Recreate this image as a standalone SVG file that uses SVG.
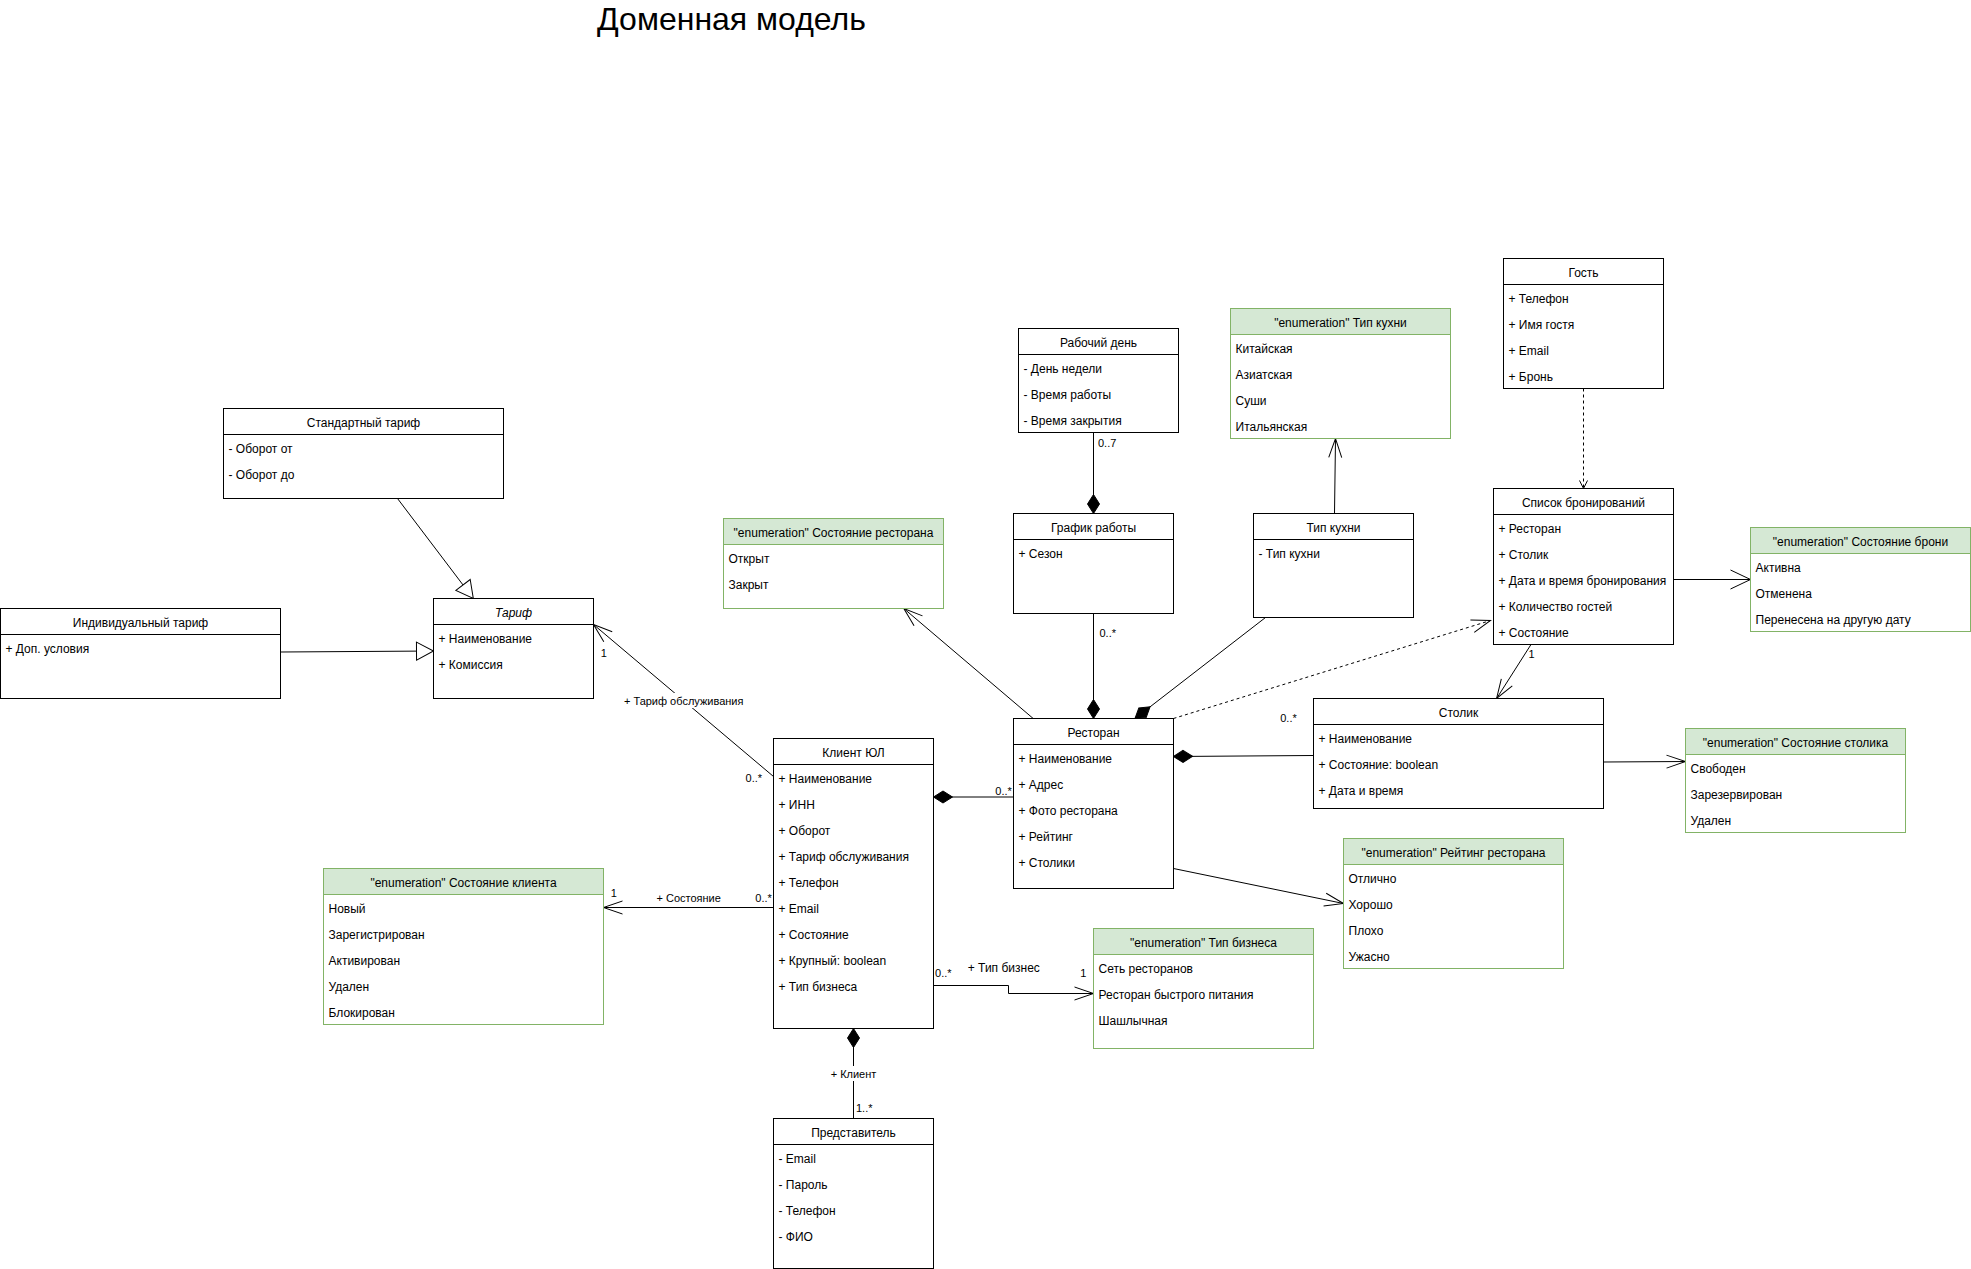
<svg xmlns="http://www.w3.org/2000/svg" width="1971" height="1269" viewBox="0 0 1971 1269">
<defs>
<style>
text{font-family:"Liberation Sans",Arial,Helvetica,sans-serif;font-size:12px;fill:#000}
.c{text-anchor:middle}
.it{font-style:italic}
.lbl{font-size:11px}
.box{fill:#fff;stroke:#000;stroke-width:1}
.sep{stroke:#000;stroke-width:1}
.ebody{fill:#fff;stroke:#82b366;stroke-width:1}
.ehead{fill:#d5e8d4;stroke:#82b366;stroke-width:1}
.edge{fill:none;stroke:#000;stroke-width:1}
.dash{stroke-dasharray:3 3}
.bg{fill:#fff;stroke:none}
</style>
<marker id="open" markerUnits="userSpaceOnUse" markerWidth="22" markerHeight="16" refX="19" refY="7" orient="auto" overflow="visible"><path d="M0,0.5 L19,7 L0,13.5" fill="none" stroke="#000"/></marker>
<marker id="openL" markerUnits="userSpaceOnUse" markerWidth="22" markerHeight="22" refX="20" refY="10" orient="auto" overflow="visible"><path d="M0,0.5 L20,10 L0,19.5" fill="none" stroke="#000"/></marker>
<marker id="openS" markerUnits="userSpaceOnUse" markerWidth="10" markerHeight="10" refX="8" refY="4" orient="auto" overflow="visible"><path d="M0,0 L8,4 L0,8" fill="none" stroke="#000"/></marker>
<marker id="diamond" markerUnits="userSpaceOnUse" markerWidth="20" markerHeight="14" refX="19" refY="6" orient="auto" overflow="visible"><path d="M0,6 L9.5,0 L19,6 L9.5,12 Z" fill="#000" stroke="#000"/></marker>
<marker id="gen" markerUnits="userSpaceOnUse" markerWidth="20" markerHeight="20" refX="17" refY="9" orient="auto" overflow="visible"><path d="M0,0 L17,9 L0,18 Z" fill="#fff" stroke="#000"/></marker>
</defs>
<rect width="1971" height="1269" fill="#fff"/>
<text x="731.5" y="30" class="c" style="font-size:32px">Доменная модель</text>

<g id="connectors">
<path class="edge" d="M280.5,652 L433.5,651" marker-end="url(#gen)"/>
<path class="edge" d="M397.5,498.5 L473.3,598.5" marker-end="url(#gen)"/>
<path class="edge" d="M773.5,776.5 L593.5,624.5" marker-end="url(#open)"/>
<rect class="bg" x="624" y="693" width="119" height="15"/>
<text x="683.7" y="705" class="c lbl">+ Тариф обслуживания</text>
<text x="603.8" y="656.5" class="c lbl">1</text>
<text x="753.8" y="782" class="c lbl">0..*</text>
<path class="edge" d="M1013.5,797 L933.5,797" marker-end="url(#diamond)"/>
<text x="1003.6" y="795" class="c lbl">0..*</text>
<path class="edge" d="M1033.2,718.5 L903.8,608.5" marker-end="url(#open)"/>
<path class="edge" d="M1093.5,613.5 L1093.5,718.5" marker-end="url(#diamond)"/>
<text x="1099.5" y="636.5" class="lbl">0..*</text>
<path class="edge" d="M1093.5,432.5 L1093.5,513.5" marker-end="url(#diamond)"/>
<text x="1098" y="446.5" class="lbl">0..7</text>
<path class="edge" d="M1265.5,617.5 L1135,718.5" marker-end="url(#diamond)"/>
<path class="edge" d="M1334.5,513.5 L1335.5,438.5" marker-end="url(#open)"/>
<path class="edge dash" d="M1173.5,718.5 L1490.5,620.5" marker-end="url(#open)"/>
<path class="edge dash" d="M1583.5,388.5 L1583.5,488.5" marker-end="url(#openS)"/>
<path class="edge" d="M1673.5,579.5 L1750.5,579.5" marker-end="url(#openL)"/>
<path class="edge" d="M1531,644.5 L1496.6,698.5" marker-end="url(#open)"/>
<text x="1531.5" y="658" class="c lbl">1</text>
<path class="edge" d="M1313.5,755.5 L1173.5,756.5" marker-end="url(#diamond)"/>
<text x="1288.5" y="722" class="c lbl">0..*</text>
<path class="edge" d="M1603.5,762 L1685.5,761.5" marker-end="url(#open)"/>
<path class="edge" d="M1173.5,868.5 L1343.5,903.5" marker-end="url(#open)"/>
<path class="edge" d="M773.5,907.5 L603.5,907.5" marker-end="url(#open)"/>
<text x="688.7" y="902" class="c lbl">+ Состояние</text>
<text x="613.8" y="897" class="c lbl">1</text>
<text x="763.6" y="902" class="c lbl">0..*</text>
<path class="edge" d="M933.5,985.5 L1008.5,985.5 L1008.5,993.5 L1093.5,993.5" marker-end="url(#open)"/>
<text x="943.3" y="976.5" class="c lbl">0..*</text>
<text x="1003.8" y="972" class="c">+ Тип бизнес</text>
<text x="1083.2" y="976.5" class="c lbl">1</text>
<path class="edge" d="M853.5,1118.5 L853.5,1028.5" marker-end="url(#diamond)"/>
<rect class="bg" x="830" y="1066" width="47" height="15"/>
<text x="853.5" y="1077.5" class="c lbl">+ Клиент</text>
<text x="856" y="1111.5" class="lbl">1..*</text>
</g>

<g id="std-tariff">
<rect class="box" x="223.5" y="408.5" width="280" height="90"/>
<line class="sep" x1="223.5" y1="434.5" x2="503.5" y2="434.5"/>
<text x="363.5" y="426.5" class="c">Стандартный тариф</text>
<text x="228.5" y="452.5">- Оборот от</text>
<text x="228.5" y="478.5">- Оборот до</text>
</g>

<g id="tariff">
<rect class="box" x="433.5" y="598.5" width="160" height="100"/>
<line class="sep" x1="433.5" y1="624.5" x2="593.5" y2="624.5"/>
<text x="513.5" y="616.5" class="c it">Тариф</text>
<text x="438.5" y="642.5">+ Наименование</text>
<text x="438.5" y="668.5">+ Комиссия</text>
</g>

<g id="ind-tariff">
<rect class="box" x="0.5" y="608.5" width="280" height="90"/>
<line class="sep" x1="0.5" y1="634.5" x2="280.5" y2="634.5"/>
<text x="140.5" y="626.5" class="c">Индивидуальный тариф</text>
<text x="5.5" y="652.5">+ Доп. условия</text>
</g>

<g id="workday">
<rect class="box" x="1018.5" y="328.5" width="160" height="104"/>
<line class="sep" x1="1018.5" y1="354.5" x2="1178.5" y2="354.5"/>
<text x="1098.5" y="346.5" class="c">Рабочий день</text>
<text x="1023.5" y="372.5">- День недели</text>
<text x="1023.5" y="398.5">- Время работы</text>
<text x="1023.5" y="424.5">- Время закрытия</text>
</g>

<g id="schedule">
<rect class="box" x="1013.5" y="513.5" width="160" height="100"/>
<line class="sep" x1="1013.5" y1="539.5" x2="1173.5" y2="539.5"/>
<text x="1093.5" y="531.5" class="c">График работы</text>
<text x="1018.5" y="557.5">+ Сезон</text>
</g>

<g id="cuisine">
<rect class="box" x="1253.5" y="513.5" width="160" height="104"/>
<line class="sep" x1="1253.5" y1="539.5" x2="1413.5" y2="539.5"/>
<text x="1333.5" y="531.5" class="c">Тип кухни</text>
<text x="1258.5" y="557.5">- Тип кухни</text>
</g>

<g id="guest">
<rect class="box" x="1503.5" y="258.5" width="160" height="130"/>
<line class="sep" x1="1503.5" y1="284.5" x2="1663.5" y2="284.5"/>
<text x="1583.5" y="276.5" class="c">Гость</text>
<text x="1508.5" y="302.5">+ Телефон</text>
<text x="1508.5" y="328.5">+ Имя гостя</text>
<text x="1508.5" y="354.5">+ Email</text>
<text x="1508.5" y="380.5">+ Бронь</text>
</g>

<g id="bookings">
<rect class="box" x="1493.5" y="488.5" width="180" height="156"/>
<line class="sep" x1="1493.5" y1="514.5" x2="1673.5" y2="514.5"/>
<text x="1583.5" y="506.5" class="c">Список бронирований</text>
<text x="1498.5" y="532.5">+ Ресторан</text>
<text x="1498.5" y="558.5">+ Столик</text>
<text x="1498.5" y="584.5">+ Дата и время бронирования</text>
<text x="1498.5" y="610.5">+ Количество гостей</text>
<text x="1498.5" y="636.5">+ Состояние</text>
</g>

<g id="restaurant">
<rect class="box" x="1013.5" y="718.5" width="160" height="170"/>
<line class="sep" x1="1013.5" y1="744.5" x2="1173.5" y2="744.5"/>
<text x="1093.5" y="736.5" class="c">Ресторан</text>
<text x="1018.5" y="762.5">+ Наименование</text>
<text x="1018.5" y="788.5">+ Адрес</text>
<text x="1018.5" y="814.5">+ Фото ресторана</text>
<text x="1018.5" y="840.5">+ Рейтинг</text>
<text x="1018.5" y="866.5">+ Столики</text>
</g>

<g id="table">
<rect class="box" x="1313.5" y="698.5" width="290" height="110"/>
<line class="sep" x1="1313.5" y1="724.5" x2="1603.5" y2="724.5"/>
<text x="1458.5" y="716.5" class="c">Столик</text>
<text x="1318.5" y="742.5">+ Наименование</text>
<text x="1318.5" y="768.5">+ Состояние: boolean</text>
<text x="1318.5" y="794.5">+ Дата и время</text>
</g>

<g id="client">
<rect class="box" x="773.5" y="738.5" width="160" height="290"/>
<line class="sep" x1="773.5" y1="764.5" x2="933.5" y2="764.5"/>
<text x="853.5" y="756.5" class="c">Клиент ЮЛ</text>
<text x="778.5" y="782.5">+ Наименование</text>
<text x="778.5" y="808.5">+ ИНН</text>
<text x="778.5" y="834.5">+ Оборот</text>
<text x="778.5" y="860.5">+ Тариф обслуживания</text>
<text x="778.5" y="886.5">+ Телефон</text>
<text x="778.5" y="912.5">+ Email</text>
<text x="778.5" y="938.5">+ Состояние</text>
<text x="778.5" y="964.5">+ Крупный: boolean</text>
<text x="778.5" y="990.5">+ Тип бизнеса</text>
</g>

<g id="representative">
<rect class="box" x="773.5" y="1118.5" width="160" height="150"/>
<line class="sep" x1="773.5" y1="1144.5" x2="933.5" y2="1144.5"/>
<text x="853.5" y="1136.5" class="c">Представитель</text>
<text x="778.5" y="1162.5">- Email</text>
<text x="778.5" y="1188.5">- Пароль</text>
<text x="778.5" y="1214.5">- Телефон</text>
<text x="778.5" y="1240.5">- ФИО</text>
</g>

<g id="enum-restaurant-state">
<rect class="ebody" x="723.5" y="518.5" width="220" height="90"/>
<rect class="ehead" x="723.5" y="518.5" width="220" height="26"/>
<text x="833.5" y="536.5" class="c">"enumeration" Состояние ресторана</text>
<text x="728.5" y="562.5">Открыт</text>
<text x="728.5" y="588.5">Закрыт</text>
</g>

<g id="enum-cuisine">
<rect class="ebody" x="1230.5" y="308.5" width="220" height="130"/>
<rect class="ehead" x="1230.5" y="308.5" width="220" height="26"/>
<text x="1340.5" y="326.5" class="c">"enumeration" Тип кухни</text>
<text x="1235.5" y="352.5">Китайская</text>
<text x="1235.5" y="378.5">Азиатская</text>
<text x="1235.5" y="404.5">Суши</text>
<text x="1235.5" y="430.5">Итальянская</text>
</g>

<g id="enum-booking-state">
<rect class="ebody" x="1750.5" y="527.5" width="220" height="104"/>
<rect class="ehead" x="1750.5" y="527.5" width="220" height="26"/>
<text x="1860.5" y="545.5" class="c">"enumeration" Состояние брони</text>
<text x="1755.5" y="571.5">Активна</text>
<text x="1755.5" y="597.5">Отменена</text>
<text x="1755.5" y="623.5">Перенесена на другую дату</text>
</g>

<g id="enum-table-state">
<rect class="ebody" x="1685.5" y="728.5" width="220" height="104"/>
<rect class="ehead" x="1685.5" y="728.5" width="220" height="26"/>
<text x="1795.5" y="746.5" class="c">"enumeration" Состояние столика</text>
<text x="1690.5" y="772.5">Свободен</text>
<text x="1690.5" y="798.5">Зарезервирован</text>
<text x="1690.5" y="824.5">Удален</text>
</g>

<g id="enum-rating">
<rect class="ebody" x="1343.5" y="838.5" width="220" height="130"/>
<rect class="ehead" x="1343.5" y="838.5" width="220" height="26"/>
<text x="1453.5" y="856.5" class="c">"enumeration" Рейтинг ресторана</text>
<text x="1348.5" y="882.5">Отлично</text>
<text x="1348.5" y="908.5">Хорошо</text>
<text x="1348.5" y="934.5">Плохо</text>
<text x="1348.5" y="960.5">Ужасно</text>
</g>

<g id="enum-business-type">
<rect class="ebody" x="1093.5" y="928.5" width="220" height="120"/>
<rect class="ehead" x="1093.5" y="928.5" width="220" height="26"/>
<text x="1203.5" y="946.5" class="c">"enumeration" Тип бизнеса</text>
<text x="1098.5" y="972.5">Сеть ресторанов</text>
<text x="1098.5" y="998.5">Ресторан быстрого питания</text>
<text x="1098.5" y="1024.5">Шашлычная</text>
</g>

<g id="enum-client-state">
<rect class="ebody" x="323.5" y="868.5" width="280" height="156"/>
<rect class="ehead" x="323.5" y="868.5" width="280" height="26"/>
<text x="463.5" y="886.5" class="c">"enumeration" Состояние клиента</text>
<text x="328.5" y="912.5">Новый</text>
<text x="328.5" y="938.5">Зарегистрирован</text>
<text x="328.5" y="964.5">Активирован</text>
<text x="328.5" y="990.5">Удален</text>
<text x="328.5" y="1016.5">Блокирован</text>
</g>
</svg>
